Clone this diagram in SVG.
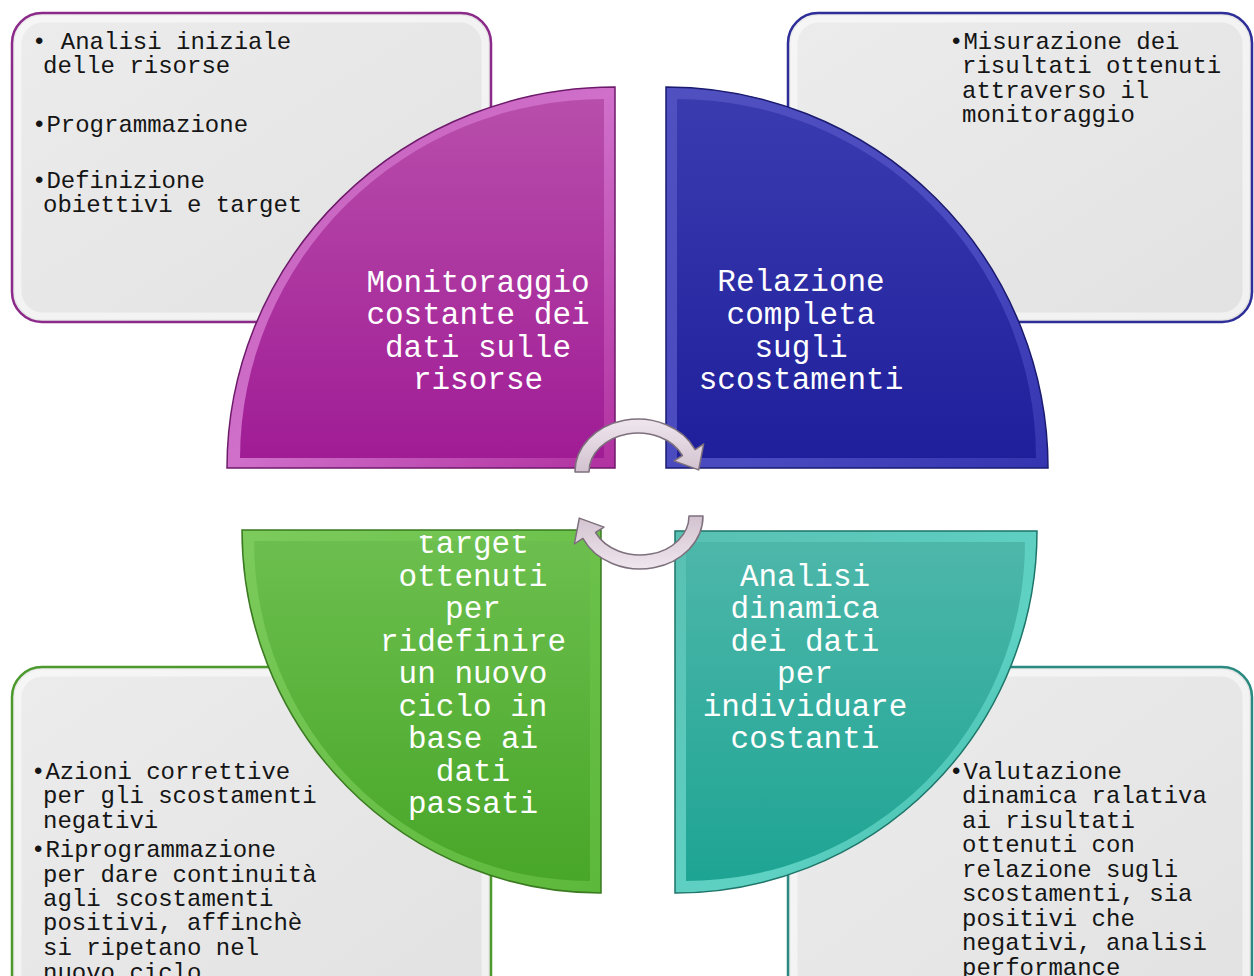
<svg xmlns="http://www.w3.org/2000/svg" width="1254" height="976" viewBox="0 0 1254 976">
<style>
.box{fill:url(#boxg);stroke-width:2.5}
.boxin{fill:none;stroke:#ffffff;stroke-opacity:0.5;stroke-width:7}
.bt{font-family:"Liberation Mono","Courier New",monospace;font-size:24px;fill:#151515}
.qt{font-family:"Liberation Mono","Courier New",monospace;font-size:31px;fill:#ffffff;text-anchor:middle}
.qedge{stroke-width:1.5}
.arrow{fill:url(#arg);stroke:#7d707c;stroke-width:1.5;stroke-linejoin:round}
</style>
<defs>
<linearGradient id="boxg" x1="0" y1="0" x2="1" y2="1">
<stop offset="0" stop-color="#ececec"/><stop offset="1" stop-color="#e2e2e2"/>
</linearGradient>
<linearGradient id="pg" x1="0" y1="0" x2="0" y2="1">
<stop offset="0" stop-color="#b84eab"/><stop offset="1" stop-color="#a01c95"/>
</linearGradient>
<linearGradient id="pe" x1="0" y1="0" x2="1" y2="1">
<stop offset="0" stop-color="#c25ab8"/><stop offset="0.5" stop-color="#d070cb"/><stop offset="1" stop-color="#b0309f"/>
</linearGradient>
<linearGradient id="bg" x1="0" y1="0" x2="0" y2="1">
<stop offset="0" stop-color="#3b3bb0"/><stop offset="1" stop-color="#1f1f9c"/>
</linearGradient>
<linearGradient id="be" x1="0" y1="0" x2="1" y2="1">
<stop offset="0" stop-color="#5050c0"/><stop offset="0.6" stop-color="#4a4ac0"/><stop offset="1" stop-color="#3434b0"/>
</linearGradient>
<linearGradient id="gg" x1="0" y1="0" x2="0" y2="1">
<stop offset="0" stop-color="#6cbf4e"/><stop offset="1" stop-color="#48a628"/>
</linearGradient>
<linearGradient id="ge" x1="0" y1="0" x2="1" y2="1">
<stop offset="0" stop-color="#7ccb5c"/><stop offset="1" stop-color="#5cb83a"/>
</linearGradient>
<linearGradient id="tg" x1="0" y1="0" x2="0" y2="1">
<stop offset="0" stop-color="#4db7aa"/><stop offset="1" stop-color="#1ea493"/>
</linearGradient>
<linearGradient id="te" x1="0" y1="0" x2="1" y2="1">
<stop offset="0" stop-color="#58c0b3"/><stop offset="0.6" stop-color="#5fd2c4"/><stop offset="1" stop-color="#2aaa98"/>
</linearGradient>
<linearGradient id="arg" x1="0" y1="0" x2="0" y2="1">
<stop offset="0" stop-color="#efe6ee"/><stop offset="1" stop-color="#d2c2cf"/>
</linearGradient>
<clipPath id="greenclip"><rect x="242" y="535" width="359" height="358"/></clipPath>
</defs>

<g id="box-top-left">
<rect class="box" x="12" y="13" width="479" height="309" rx="30" stroke="#8c2a8a"/>
<rect class="boxin" x="18" y="19" width="467" height="297" rx="25"/>
<text class="bt"><tspan x="32" y="49">• Analisi iniziale</tspan><tspan x="43" y="73">delle risorse</tspan><tspan x="32" y="132">•Programmazione</tspan><tspan x="32" y="188">•Definizione</tspan><tspan x="43" y="212">obiettivi e target</tspan></text>
</g>
<g id="box-top-right">
<rect class="box" x="788" y="13" width="464" height="309" rx="30" stroke="#2e2e98"/>
<rect class="boxin" x="794" y="19" width="452" height="297" rx="25"/>
<text class="bt"><tspan x="949" y="49">•Misurazione dei</tspan><tspan x="962" y="73">risultati ottenuti</tspan><tspan x="962" y="98">attraverso il</tspan><tspan x="962" y="122">monitoraggio</tspan></text>
</g>
<g id="box-bottom-left">
<rect class="box" x="12" y="667" width="479" height="340" rx="30" stroke="#4c9a2e"/>
<rect class="boxin" x="18" y="673" width="467" height="328" rx="25"/>
<text class="bt"><tspan x="31" y="779">•Azioni correttive</tspan><tspan x="43" y="803">per gli scostamenti</tspan><tspan x="43" y="828">negativi</tspan><tspan x="31" y="857">•Riprogrammazione</tspan><tspan x="43" y="882">per dare continuità</tspan><tspan x="43" y="906">agli scostamenti</tspan><tspan x="43" y="930">positivi, affinchè</tspan><tspan x="43" y="955">si ripetano nel</tspan><tspan x="43" y="980">nuovo ciclo</tspan></text>
</g>
<g id="box-bottom-right">
<rect class="box" x="788" y="667" width="464" height="340" rx="30" stroke="#2a8a80"/>
<rect class="boxin" x="794" y="673" width="452" height="328" rx="25"/>
<text class="bt"><tspan x="949" y="779">•Valutazione</tspan><tspan x="962" y="803">dinamica ralativa</tspan><tspan x="962" y="828">ai risultati</tspan><tspan x="962" y="852">ottenuti con</tspan><tspan x="962" y="877">relazione sugli</tspan><tspan x="962" y="901">scostamenti, sia</tspan><tspan x="962" y="926">positivi che</tspan><tspan x="962" y="950">negativi, analisi</tspan><tspan x="962" y="975">performance</tspan></text>
</g>

<g id="quadrant-purple">
<path class="qedge" d="M615,468 L227,468 A388,381 0 0 1 615,87 Z" fill="url(#pe)" stroke="#6e1a6a"/>
<path d="M604,458 L240,458 A364,360 0 0 1 604,99 Z" fill="url(#pg)"/>
<text class="qt"><tspan x="478" y="292">Monitoraggio</tspan><tspan x="478" y="324">costante dei</tspan><tspan x="478" y="357">dati sulle</tspan><tspan x="478" y="389">risorse</tspan></text>
</g>
<g id="quadrant-blue">
<path class="qedge" d="M666,468 L666,87 A382,381 0 0 1 1048,468 Z" fill="url(#be)" stroke="#1a1a70"/>
<path d="M677,458 L677,99 A359,359 0 0 1 1036,458 Z" fill="url(#bg)"/>
<text class="qt"><tspan x="801" y="291">Relazione</tspan><tspan x="801" y="324">completa</tspan><tspan x="801" y="357">sugli</tspan><tspan x="801" y="389">scostamenti</tspan></text>
</g>
<g id="quadrant-green">
<path class="qedge" d="M601,530 L601,893 A359,363 0 0 1 242,530 Z" fill="url(#ge)" stroke="#3a7a20"/>
<path d="M590,541 L590,881 A336,340 0 0 1 254,541 Z" fill="url(#gg)"/>
<text class="qt" clip-path="url(#greenclip)"><tspan x="473" y="553">target</tspan><tspan x="473" y="586">ottenuti</tspan><tspan x="473" y="618">per</tspan><tspan x="473" y="651">ridefinire</tspan><tspan x="473" y="683">un nuovo</tspan><tspan x="473" y="716">ciclo in</tspan><tspan x="473" y="748">base ai</tspan><tspan x="473" y="781">dati</tspan><tspan x="473" y="813">passati</tspan></text>
</g>
<g id="quadrant-teal">
<path class="qedge" d="M675,531 L1037,531 A362,362 0 0 1 675,893 Z" fill="url(#te)" stroke="#1d7468"/>
<path d="M686,542 L1025,542 A339,339 0 0 1 686,881 Z" fill="url(#tg)"/>
<text class="qt"><tspan x="805" y="586">Analisi</tspan><tspan x="805" y="618">dinamica</tspan><tspan x="805" y="651">dei dati</tspan><tspan x="805" y="683">per</tspan><tspan x="805" y="716">individuare</tspan><tspan x="805" y="748">costanti</tspan></text>
</g>

<g id="connectors">
<path id="arrow-top" class="arrow" d="M575,472 A63,53 0 0 1 695.1,449.6 L703.6,444.1 L698.7,469.9 L674,460.9 L682.4,455.5 A49,39 0 0 0 589,472 Z"/>
<path id="arrow-bottom" class="arrow" transform="rotate(180 639 494)" d="M575,472 A63,53 0 0 1 695.1,449.6 L703.6,444.1 L698.7,469.9 L674,460.9 L682.4,455.5 A49,39 0 0 0 589,472 Z"/>
</g>
</svg>
